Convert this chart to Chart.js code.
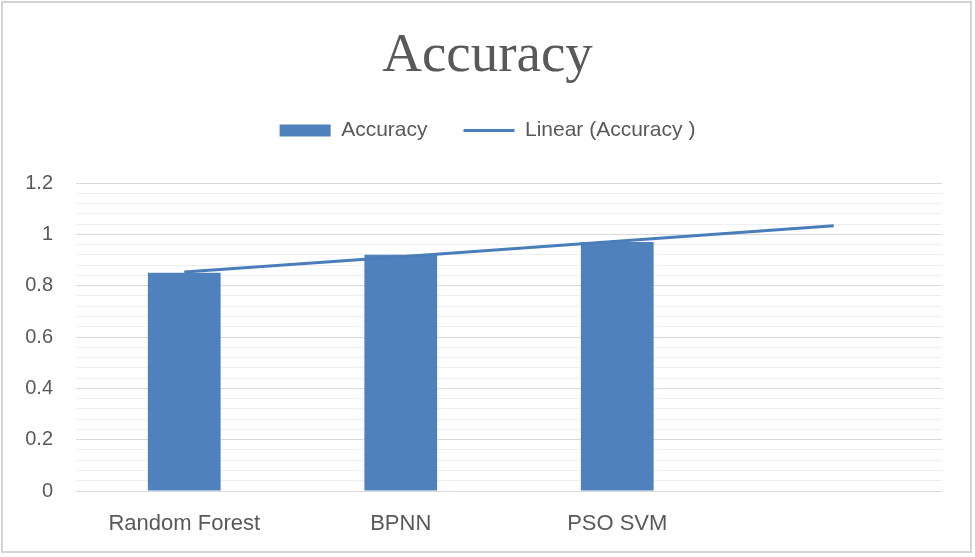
<!DOCTYPE html>
<html>
<head>
<meta charset="utf-8">
<script src="https://cdn.jsdelivr.net/npm/chart.js@4/dist/chart.umd.min.js"></script>
<style>
  html, body { margin: 0; padding: 0; background: #ffffff; }
  canvas { display: block; }
</style>
</head>
<body>
<canvas id="chart-accuracy" width="975" height="557"></canvas>
<script>
// values
const categories = ["Random Forest", "BPNN", "PSO SVM", ""];
const accuracy = [0.85, 0.92, 0.97, null];
const linearTrend = [0.853, 0.913, 0.973, 1.033];
const majorTicks = [0, 0.2, 0.4, 0.6, 0.8, 1, 1.2];
const minorStep = 0.04;

const BLUE = "#4f81bd";
const TEXT = "#595959";

function isMajor(v) {
    return Math.round(v / minorStep) % 5 === 0;
}

// light grey frame round the whole chart, as in the spreadsheet export
const framePlugin = {
    id: "frame",
    beforeDraw(chart) {
        const ctx = chart.ctx;
        ctx.save();
        ctx.fillStyle = "#ffffff";
        ctx.fillRect(0, 0, chart.width, chart.height);
        ctx.strokeStyle = "#d4d4d4";
        ctx.lineWidth = 2;
        ctx.strokeRect(2, 2, 969, 550);
        ctx.restore();
    },
};

const ctx = document.getElementById("chart-accuracy").getContext("2d");
new Chart(ctx, {
    type: "bar",
    data: {
        labels: categories,
        datasets: [
            {
                label: "Accuracy",
                data: accuracy,
                backgroundColor: BLUE,
                borderWidth: 0,
                barPercentage: 0.336,
                categoryPercentage: 1,
                pointStyle: "rect",
                order: 1,
            },
            {
                type: "line",
                label: "Linear (Accuracy )",
                data: linearTrend,
                borderColor: "#4a7ebb",
                backgroundColor: "#4a7ebb",
                borderWidth: 3,
                pointRadius: 0,
                pointStyle: "line",
                fill: false,
                tension: 0,
                order: 0,
            },
        ],
    },
    options: {
        responsive: false,
        animation: false,
        devicePixelRatio: 1,
        layout: { padding: 0 },
        plugins: {
            title: {
                display: true,
                text: "Accuracy",
                color: TEXT,
                font: { family: "'Liberation Serif', 'DejaVu Serif', serif", size: 55, weight: "normal", lineHeight: 1 },
                padding: { top: 29, bottom: 0 },
            },
            legend: {
                display: true,
                position: "top",
                labels: {
                    usePointStyle: true,
                    pointStyleWidth: 51,
                    boxHeight: 12,
                    padding: 36,
                    color: TEXT,
                    font: { family: "'Liberation Sans', Arial, sans-serif", size: 21 },
                    sort: (a, b) => a.datasetIndex - b.datasetIndex,
                },
            },
            // empty spacer between legend and plot area
            subtitle: {
                display: true,
                text: "",
                weight: 500,
                font: { size: 2, lineHeight: 1 },
                padding: { top: 30, bottom: 0 },
            },
            tooltip: { enabled: false },
        },
        scales: {
            x: {
                grid: { display: false },
                border: { display: false },
                ticks: {
                    color: TEXT,
                    padding: 12,
                    maxRotation: 0,
                    autoSkip: false,
                    font: { family: "'Liberation Sans', Arial, sans-serif", size: 22 },
                },
                afterFit(scale) { scale.height = 66; },
            },
            y: {
                min: majorTicks[0],
                max: majorTicks[majorTicks.length - 1],
                border: { display: false },
                grid: {
                    drawTicks: false,
                    color: c => isMajor(c.tick.value) ? "#d9d9d9" : "#efefef",
                    lineWidth: 1,
                },
                ticks: {
                    stepSize: minorStep,
                    autoSkip: false,
                    padding: 23,
                    color: TEXT,
                    font: { family: "'Liberation Sans', Arial, sans-serif", size: 20 },
                    callback: v => isMajor(v) ? String(Math.round(v * 10) / 10) : "",
                },
                afterFit(scale) { scale.width = 76; },
            },
            // blank right-hand axis, only to keep the right margin
            yRight: {
                position: "right",
                display: true,
                grid: { display: false },
                border: { display: false },
                ticks: { display: false },
                afterFit(scale) { scale.width = 33; },
            },
        },
    },
    plugins: [framePlugin],
});
</script>
</body>
</html>
